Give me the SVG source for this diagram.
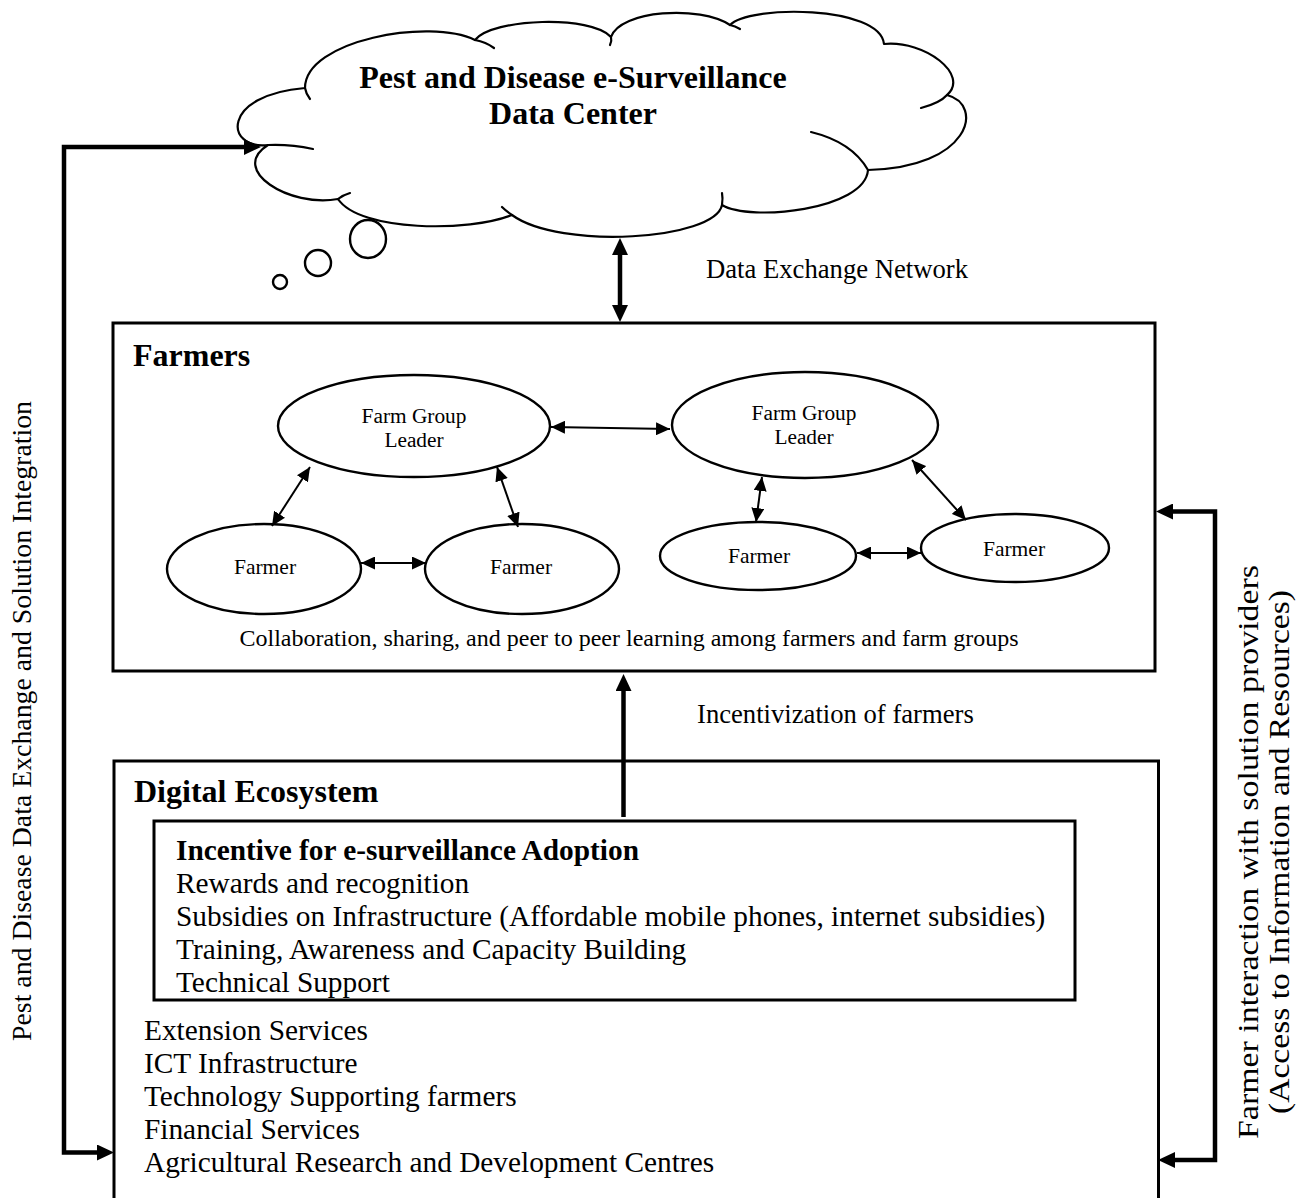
<svg xmlns="http://www.w3.org/2000/svg" width="1306" height="1198" viewBox="0 0 1306 1198">
<style>
text{font-family:"Liberation Serif","Times New Roman",serif;fill:#000}
.b{font-weight:bold}
.cl{fill:#fff;stroke:#000;stroke-width:2.2;stroke-linejoin:round}
.stub{fill:none;stroke:#000;stroke-width:2.2;stroke-linecap:round}
.box{fill:none;stroke:#000;stroke-width:3}
.el{fill:#fff;stroke:#000;stroke-width:2.4}
.thick{fill:none;stroke:#000;stroke-width:4.5;stroke-linejoin:miter}
.thin{fill:none;stroke:#000;stroke-width:2}
</style>
<defs>
<marker id="ha" markerUnits="userSpaceOnUse" markerWidth="17" markerHeight="16" refX="0" refY="8" orient="auto-start-reverse"><path d="M0,0 L17,8 L0,16 z" fill="#000"/></marker>
<marker id="ta" markerUnits="userSpaceOnUse" markerWidth="14" markerHeight="13" refX="14" refY="6.5" orient="auto-start-reverse"><path d="M0,0 L14,6.5 L0,13 z" fill="#000"/></marker>
</defs>
<rect width="1306" height="1198" fill="#fff"/>

<g id="cloud">
<path class="cl" d="M268,145 C225,150 220,95 305,88 C305,40 430,18 475,40 C492,18 592,15 611,37 C620,10 700,5 730,25 C748,5 880,5 884,44 C925,40 970,75 947,95 C985,105 970,168 868,170 C865,210 750,222 722,205 C715,240 560,250 512,215 C470,232 360,232 338,199 C290,208 228,170 268,145 Z"/>
<path class="stub" d="M268,145 Q290,144 313,149"/>
<path class="stub" d="M305,88 Q306,94 310,99"/>
<path class="stub" d="M475,40 Q486,42 494,48"/>
<path class="stub" d="M611,37 Q612,41 610,45"/>
<path class="stub" d="M730,25 Q735,26 740,29"/>
<path class="stub" d="M947,95 Q940,103 921,108"/>
<path class="stub" d="M868,170 Q852,142 811,132"/>
<path class="stub" d="M722,205 Q723,198 722,193"/>
<path class="stub" d="M512,215 Q506,211 502,207"/>
<path class="stub" d="M338,199 Q343,195 350,193"/>
<text class="b" x="573" y="88" font-size="32" text-anchor="middle">Pest and Disease e-Surveillance</text>
<text class="b" x="573" y="124" font-size="32" text-anchor="middle">Data Center</text>
</g>
<g id="bubbles">
<ellipse class="el" cx="368" cy="239" rx="18" ry="19" stroke-width="2.2"/>
<circle class="el" cx="318" cy="263" r="13" stroke-width="2.2"/>
<circle class="el" cx="280" cy="282" r="7" stroke-width="2.2"/>
</g>

<g id="farmers">
<rect class="box" x="113" y="323" width="1042" height="348"/>
<text class="b" x="133" y="366" font-size="32">Farmers</text>
<text x="629" y="646" font-size="24" text-anchor="middle">Collaboration, sharing, and peer to peer learning among farmers and farm groups</text>
</g>
<g id="fgl1">
<ellipse class="el" cx="414" cy="426" rx="136" ry="51"/>
<text x="414" y="423" font-size="21.33" text-anchor="middle">Farm Group</text>
<text x="414" y="447" font-size="21.33" text-anchor="middle">Leader</text>
</g>
<g id="fgl2">
<ellipse class="el" cx="805" cy="425" rx="133" ry="53"/>
<text x="804" y="420" font-size="21.33" text-anchor="middle">Farm Group</text>
<text x="804" y="444" font-size="21.33" text-anchor="middle">Leader</text>
</g>
<g id="farmer1">
<ellipse class="el" cx="264" cy="569" rx="97" ry="45"/>
<text x="265" y="574" font-size="21.5" text-anchor="middle">Farmer</text>
</g>
<g id="farmer2">
<ellipse class="el" cx="522" cy="569" rx="97" ry="45"/>
<text x="521" y="574" font-size="21.5" text-anchor="middle">Farmer</text>
</g>
<g id="farmer3">
<ellipse class="el" cx="758" cy="556" rx="98" ry="34"/>
<text x="759" y="563" font-size="21.5" text-anchor="middle">Farmer</text>
</g>
<g id="farmer4">
<ellipse class="el" cx="1015" cy="548" rx="94" ry="34"/>
<text x="1014" y="556" font-size="21.5" text-anchor="middle">Farmer</text>
</g>

<g id="digital">
<rect class="box" x="114" y="761" width="1044.5" height="460"/>
<text class="b" x="134" y="802" font-size="32">Digital Ecosystem</text>
<text x="144" y="1040" font-size="29.33">Extension Services</text>
<text x="144" y="1073" font-size="29.33">ICT Infrastructure</text>
<text x="144" y="1106" font-size="29.33">Technology Supporting farmers</text>
<text x="144" y="1139" font-size="29.33">Financial Services</text>
<text x="144" y="1172" font-size="29.33">Agricultural Research and Development Centres</text>
</g>
<g id="incentive">
<rect class="box" x="154" y="821" width="921" height="179"/>
<text class="b" x="176" y="860" font-size="29.33">Incentive for e-surveillance Adoption</text>
<text x="176" y="893" font-size="29.33">Rewards and recognition</text>
<text x="176" y="926" font-size="29.33">Subsidies on Infrastructure (Affordable mobile phones, internet subsidies)</text>
<text x="176" y="959" font-size="29.33">Training, Awareness and Capacity Building</text>
<text x="176" y="992" font-size="29.33">Technical Support</text>
</g>

<g id="connectors">
<path class="thick" d="M620,255 L620,305" marker-start="url(#ha)" marker-end="url(#ha)"/>
<path class="thick" d="M623.5,817 L623.5,691" marker-end="url(#ha)"/>
<path class="thick" d="M244,147 L64,147 L64,1152.5 L97,1152.5" marker-start="url(#ha)" marker-end="url(#ha)"/>
<path class="thick" d="M1173,511.5 L1215,511.5 L1215,1160 L1175,1160" marker-start="url(#ha)" marker-end="url(#ha)"/>
<path class="thin" d="M551,427 L670,429" marker-start="url(#ta)" marker-end="url(#ta)"/>
<path class="thin" d="M310,467 L272,526" marker-start="url(#ta)" marker-end="url(#ta)"/>
<path class="thin" d="M497,467 L518,527" marker-start="url(#ta)" marker-end="url(#ta)"/>
<path class="thin" d="M361,563 L426,563" marker-start="url(#ta)" marker-end="url(#ta)"/>
<path class="thin" d="M762,477 L756,522" marker-start="url(#ta)" marker-end="url(#ta)"/>
<path class="thin" d="M912,460 L966,520" marker-start="url(#ta)" marker-end="url(#ta)"/>
<path class="thin" d="M857,553 L921,553" marker-start="url(#ta)" marker-end="url(#ta)"/>
</g>

<g id="labels">
<text x="706" y="278" font-size="26.67">Data Exchange Network</text>
<text x="697" y="723" font-size="26.67">Incentivization of farmers</text>
<text transform="translate(31,721) rotate(-90)" font-size="27.8" text-anchor="middle">Pest and Disease Data Exchange and Solution Integration</text>
<text transform="translate(1258,852) rotate(-90)" font-size="29" text-anchor="middle" textLength="574" lengthAdjust="spacingAndGlyphs">Farmer interaction with solution providers</text>
<text transform="translate(1289,852) rotate(-90)" font-size="29" text-anchor="middle" textLength="524" lengthAdjust="spacingAndGlyphs">(Access to Information and Resources)</text>
</g>
</svg>
